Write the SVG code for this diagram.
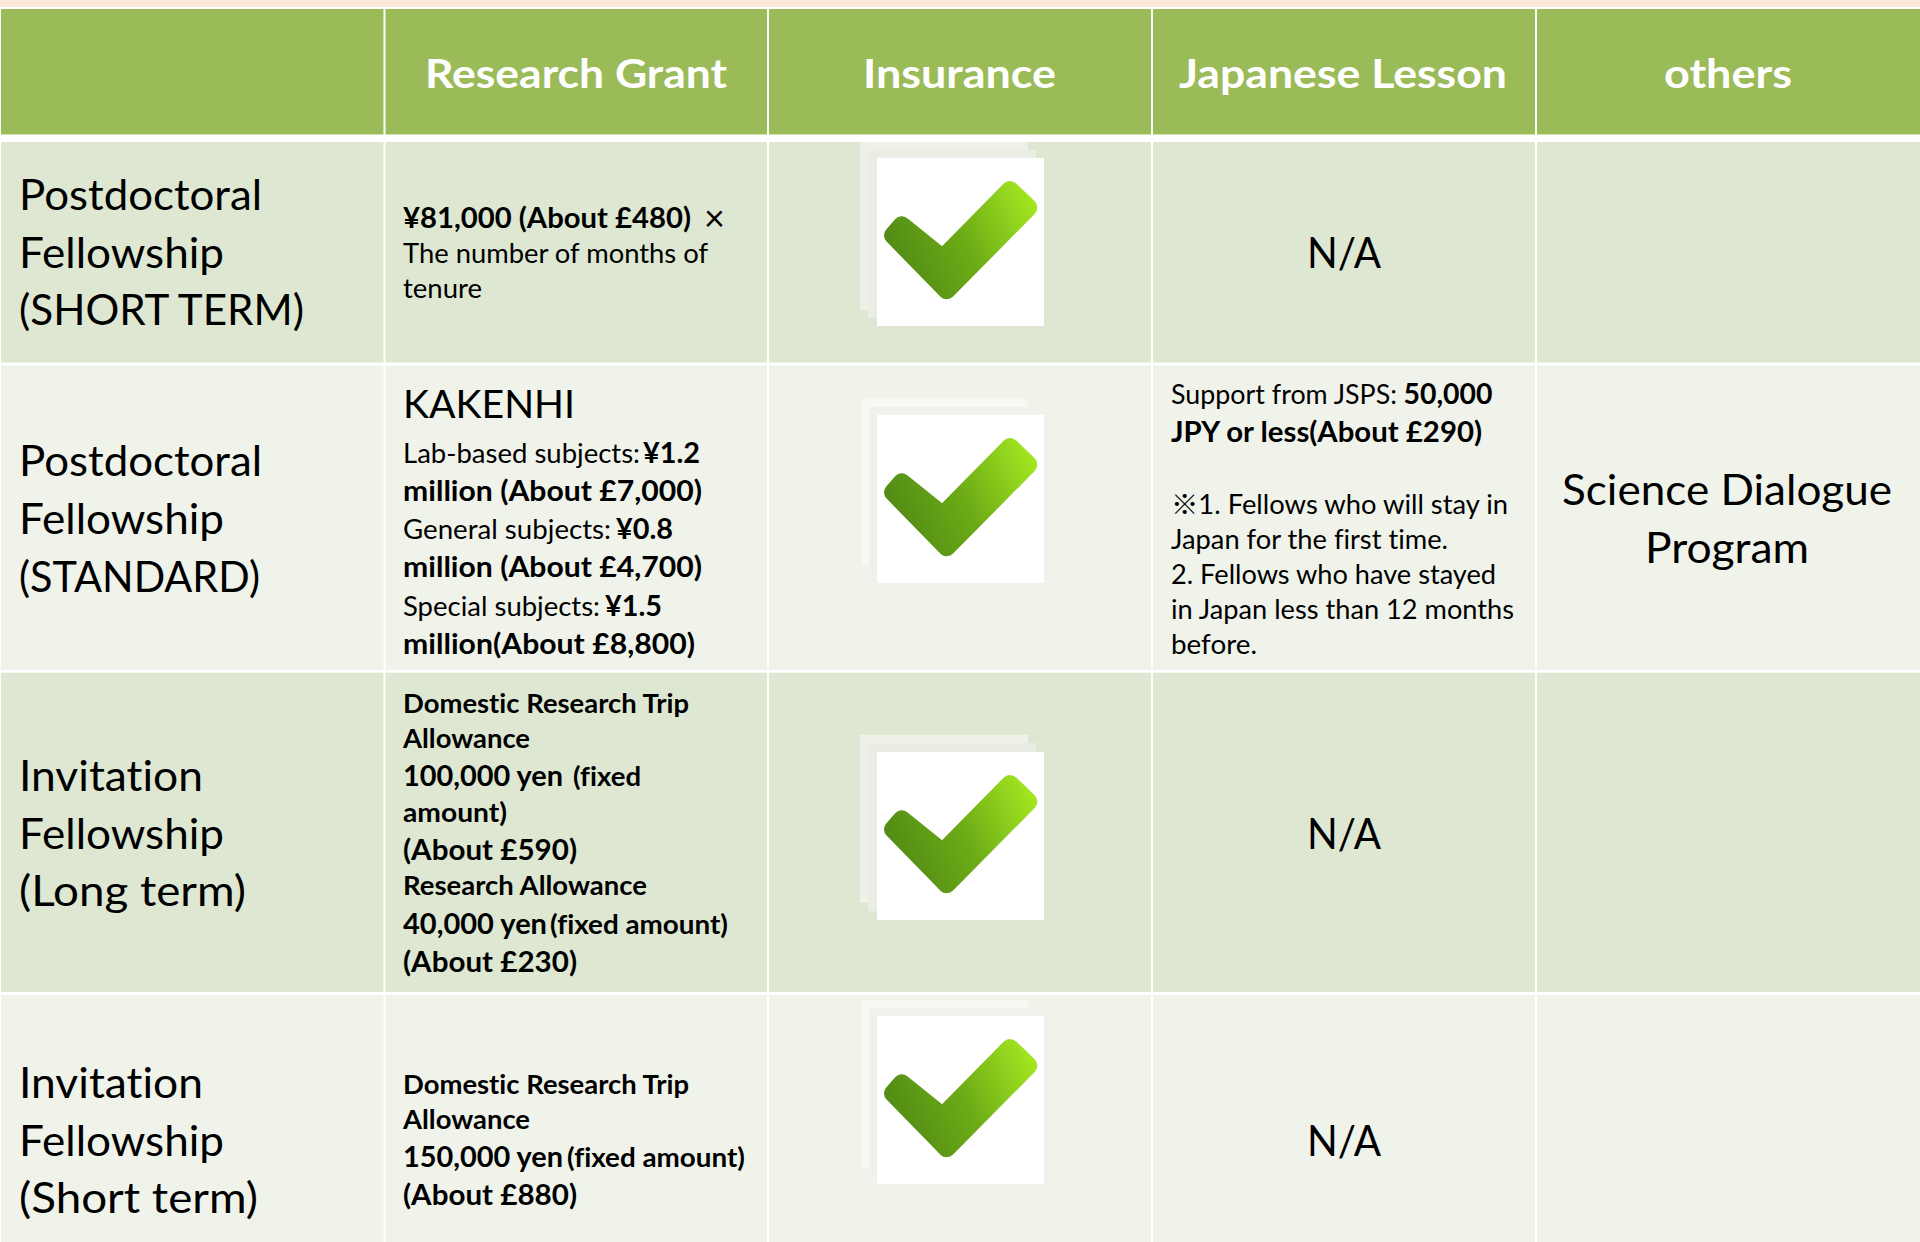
<svg xmlns="http://www.w3.org/2000/svg" width="1920" height="1242" viewBox="0 0 1920 1242">
<style>
text{font-family:"Lato","Carlito","Noto Sans CJK JP",sans-serif;fill:#000;font-variant-ligatures:none}
.h{font-weight:700;font-size:40px;fill:#fff}
.l{font-size:43px}
.s{font-size:26px}
.m{font-size:29px}
.k{font-size:39px}
.b{font-weight:700}
.hc{fill:#9bbb59}
.o{fill:#dee7d1}
.e{fill:#eff3ea}
.s1{fill:#edf1e8}
.s2{fill:#eaede3}
.s3{fill:#f6f8f3}
.s4{fill:#f0f1eb}
.w{fill:#fff}
</style>
<defs>
<linearGradient id="gr" gradientUnits="userSpaceOnUse" x1="7" y1="110" x2="160" y2="40"><stop offset="0" stop-color="#4d8615"/><stop offset="0.5" stop-color="#6cab16"/><stop offset="1" stop-color="#a6ea22"/></linearGradient>
<g id="check"><rect class="w" width="167" height="168"/><polygon points="133,32 151.3,49.6 69.7,132.3 16,77.3 24.7,67.3 65.7,100.3" fill="url(#gr)" stroke="url(#gr)" stroke-width="18" stroke-linejoin="round"/></g>
</defs>
<rect width="1920" height="1242" fill="#fff"/>
<rect width="1920" height="7" fill="#fde9dc"/>
<g id="header">
<rect class="hc" x="1" y="9" width="382.5" height="125.500"/><rect class="hc" x="385.500" y="9" width="381.500" height="125.500"/><rect class="hc" x="769" y="9" width="382" height="125.500"/><rect class="hc" x="1153" y="9" width="382" height="125.500"/><rect class="hc" x="1537" y="9" width="383" height="125.500"/>
<text class="h" x="425" y="88" textLength="302" lengthAdjust="spacingAndGlyphs">Research Grant</text>
<text class="h" x="863" y="88" textLength="193" lengthAdjust="spacingAndGlyphs">Insurance</text>
<text class="h" x="1179" y="88" textLength="328" lengthAdjust="spacingAndGlyphs">Japanese Lesson</text>
<text class="h" x="1664" y="88" textLength="128" lengthAdjust="spacingAndGlyphs">others</text>
</g>
<g id="row1">
<rect class="o" x="1" y="142" width="382.500" height="220.500"/><rect class="o" x="385.500" y="142" width="381.500" height="220.500"/><rect class="o" x="769" y="142" width="382" height="220.500"/><rect class="o" x="1153" y="142" width="382" height="220.500"/><rect class="o" x="1537" y="142" width="383" height="220.500"/>
<text class="l"><tspan x="19" y="210" textLength="243" lengthAdjust="spacingAndGlyphs">Postdoctoral</tspan><tspan x="19" y="268" textLength="205" lengthAdjust="spacingAndGlyphs">Fellowship</tspan><tspan x="19" y="325" textLength="285" lengthAdjust="spacingAndGlyphs">(SHORT TERM)</tspan></text>
<text class="m b" x="403" y="228" textLength="288" lengthAdjust="spacingAndGlyphs">¥81,000 (About £480)</text>
<text x="704" y="231" font-size="36">×</text>
<text class="s"><tspan x="403" y="263" textLength="305" lengthAdjust="spacingAndGlyphs">The number of months of</tspan><tspan x="403" y="298" textLength="79" lengthAdjust="spacingAndGlyphs">tenure</tspan></text>
<rect class="s1" x="860" y="142" width="168" height="168"/><rect class="s2" x="868" y="150" width="168" height="168"/>
<use href="#check" x="877" y="158"/>
<text class="l" x="1307" y="268" textLength="74" lengthAdjust="spacingAndGlyphs">N/A</text>
</g>
<g id="row2">
<rect class="e" x="1" y="365.500" width="382.500" height="304.500"/><rect class="e" x="385.500" y="365.500" width="381.500" height="304.500"/><rect class="e" x="769" y="365.500" width="382" height="304.500"/><rect class="e" x="1153" y="365.500" width="382" height="304.500"/><rect class="e" x="1537" y="365.500" width="383" height="304.500"/>
<text class="l"><tspan x="19" y="476" textLength="243" lengthAdjust="spacingAndGlyphs">Postdoctoral</tspan><tspan x="19" y="534" textLength="205" lengthAdjust="spacingAndGlyphs">Fellowship</tspan><tspan x="19" y="592" textLength="241" lengthAdjust="spacingAndGlyphs">(STANDARD)</tspan></text>
<text class="k" x="403" y="418" textLength="172" lengthAdjust="spacingAndGlyphs">KAKENHI</text>
<text class="s" x="403" y="463" textLength="237" lengthAdjust="spacingAndGlyphs">Lab-based subjects:</text>
<text class="m b" x="643" y="463" textLength="57" lengthAdjust="spacingAndGlyphs">¥1.2</text>
<text class="m b" x="403" y="501" textLength="299" lengthAdjust="spacingAndGlyphs">million (About £7,000)</text>
<text class="s" x="403" y="539" textLength="208" lengthAdjust="spacingAndGlyphs">General subjects:</text>
<text class="m b" x="616" y="539" textLength="57" lengthAdjust="spacingAndGlyphs">¥0.8</text>
<text class="m b" x="403" y="577" textLength="299" lengthAdjust="spacingAndGlyphs">million (About £4,700)</text>
<text class="s" x="403" y="616" textLength="197" lengthAdjust="spacingAndGlyphs">Special subjects:</text>
<text class="m b" x="605" y="616" textLength="57" lengthAdjust="spacingAndGlyphs">¥1.5</text>
<text class="m b" x="403" y="654" textLength="292" lengthAdjust="spacingAndGlyphs">million(About £8,800)</text>
<rect class="s3" x="861" y="399" width="167" height="167"/><rect class="s4" x="869" y="407" width="167" height="168"/>
<use href="#check" x="877" y="415"/>
<text class="s" x="1171" y="404" textLength="226" lengthAdjust="spacingAndGlyphs">Support from JSPS:</text>
<text class="m b" x="1403.500" y="404" textLength="89" lengthAdjust="spacingAndGlyphs">50,000</text>
<text class="m b" x="1171" y="442" textLength="311" lengthAdjust="spacingAndGlyphs">JPY or less(About £290)</text>
<text class="s" x="1171" y="514" textLength="337" lengthAdjust="spacingAndGlyphs">※1. Fellows who will stay in</text>
<text class="s"><tspan x="1171" y="549" textLength="277" lengthAdjust="spacingAndGlyphs">Japan for the first time.</tspan><tspan x="1171" y="584" textLength="325" lengthAdjust="spacingAndGlyphs">2. Fellows who have stayed</tspan><tspan x="1171" y="619" textLength="343" lengthAdjust="spacingAndGlyphs">in Japan less than 12 months</tspan><tspan x="1171" y="654" textLength="86" lengthAdjust="spacingAndGlyphs">before.</tspan></text>
<text class="l"><tspan x="1562" y="505" textLength="330" lengthAdjust="spacingAndGlyphs">Science Dialogue</tspan><tspan x="1645" y="563" textLength="164" lengthAdjust="spacingAndGlyphs">Program</tspan></text>
</g>
<g id="row3">
<rect class="o" x="1" y="672.700" width="382.500" height="319.300"/><rect class="o" x="385.500" y="672.700" width="381.500" height="319.300"/><rect class="o" x="769" y="672.700" width="382" height="319.300"/><rect class="o" x="1153" y="672.700" width="382" height="319.300"/><rect class="o" x="1537" y="672.700" width="383" height="319.300"/>
<text class="l"><tspan x="19" y="791" textLength="184" lengthAdjust="spacingAndGlyphs">Invitation</tspan><tspan x="19" y="849" textLength="205" lengthAdjust="spacingAndGlyphs">Fellowship</tspan><tspan x="19" y="906" textLength="227" lengthAdjust="spacingAndGlyphs">(Long term)</tspan></text>
<text class="s b"><tspan x="403" y="713" textLength="286" lengthAdjust="spacingAndGlyphs">Domestic Research Trip</tspan><tspan x="403" y="748" textLength="127" lengthAdjust="spacingAndGlyphs">Allowance</tspan></text>
<text class="m b" x="403" y="786" textLength="160" lengthAdjust="spacingAndGlyphs">100,000 yen</text>
<text class="s b" x="573" y="786" textLength="68" lengthAdjust="spacingAndGlyphs">(fixed</text>
<text class="s b" x="403" y="822" textLength="104" lengthAdjust="spacingAndGlyphs">amount)</text>
<text class="m b" x="403" y="860" textLength="174" lengthAdjust="spacingAndGlyphs">(About £590)</text>
<text class="s b" x="403" y="895" textLength="244" lengthAdjust="spacingAndGlyphs">Research Allowance</text>
<text class="m b" x="403" y="934" textLength="144" lengthAdjust="spacingAndGlyphs">40,000 yen</text>
<text class="s b" x="550" y="934" textLength="178" lengthAdjust="spacingAndGlyphs">(fixed amount)</text>
<text class="m b" x="403" y="971.500" textLength="174" lengthAdjust="spacingAndGlyphs">(About £230)</text>
<rect class="s1" x="860" y="735" width="168" height="168"/><rect class="s2" x="868" y="743" width="168" height="168"/>
<use href="#check" x="877" y="752"/>
<text class="l" x="1307" y="849" textLength="74" lengthAdjust="spacingAndGlyphs">N/A</text>
</g>
<g id="row4">
<rect class="e" x="1" y="995" width="382.500" height="247"/><rect class="e" x="385.500" y="995" width="381.500" height="247"/><rect class="e" x="769" y="995" width="382" height="247"/><rect class="e" x="1153" y="995" width="382" height="247"/><rect class="e" x="1537" y="995" width="383" height="247"/>
<text class="l"><tspan x="19" y="1098" textLength="184" lengthAdjust="spacingAndGlyphs">Invitation</tspan><tspan x="19" y="1156" textLength="205" lengthAdjust="spacingAndGlyphs">Fellowship</tspan><tspan x="19" y="1213" textLength="239" lengthAdjust="spacingAndGlyphs">(Short term)</tspan></text>
<text class="s b"><tspan x="403" y="1094" textLength="286" lengthAdjust="spacingAndGlyphs">Domestic Research Trip</tspan><tspan x="403" y="1129" textLength="127" lengthAdjust="spacingAndGlyphs">Allowance</tspan></text>
<text class="m b" x="403" y="1167" textLength="160" lengthAdjust="spacingAndGlyphs">150,000 yen</text>
<text class="s b" x="567" y="1167" textLength="178" lengthAdjust="spacingAndGlyphs">(fixed amount)</text>
<text class="m b" x="403" y="1205" textLength="174" lengthAdjust="spacingAndGlyphs">(About £880)</text>
<rect class="s3" x="861" y="1000" width="167" height="168"/><rect class="s4" x="869" y="1008" width="167" height="168"/>
<use href="#check" x="877" y="1016"/>
<text class="l" x="1307" y="1156" textLength="74" lengthAdjust="spacingAndGlyphs">N/A</text>
</g>
</svg>
